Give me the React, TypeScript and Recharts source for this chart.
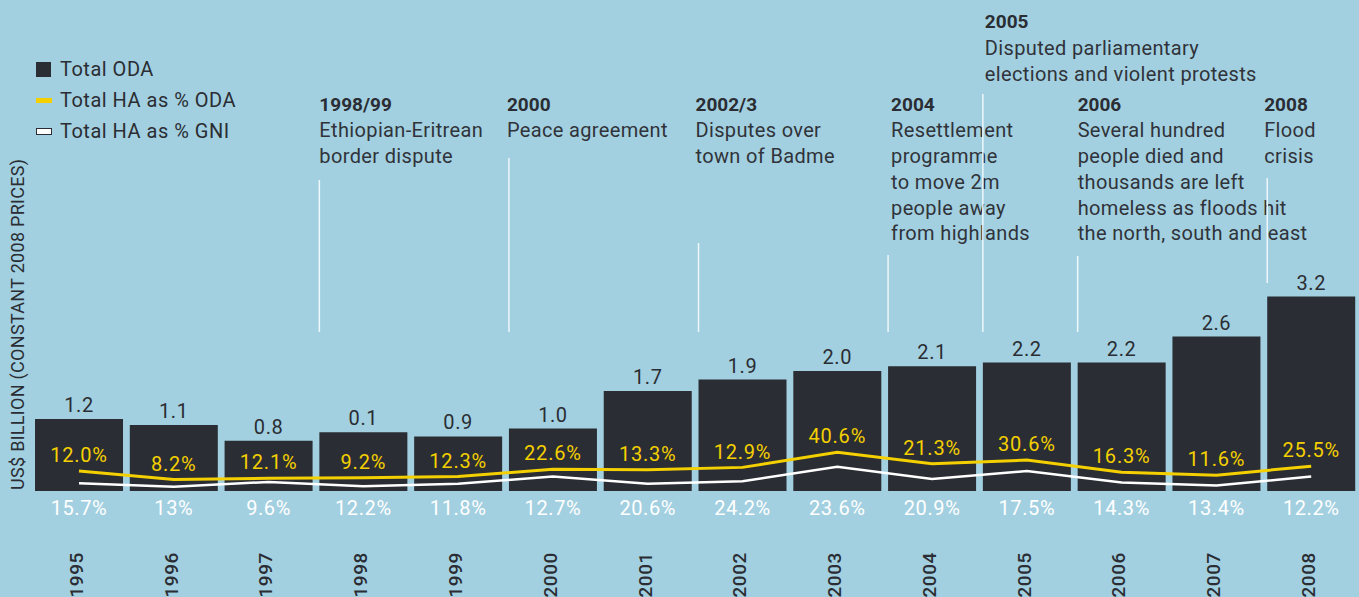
import React from "react";
import {
  ComposedChart,
  Bar,
  Line,
  XAxis,
  YAxis,
  LabelList,
  Legend,
} from "recharts";

const years = ["1995", "1996", "1997", "1998", "1999", "2000", "2001", "2002", "2003", "2004", "2005", "2006", "2007", "2008"];
// bar heights as drawn (US$ billion)
const odaTotal = [1.19, 1.09, 0.83, 0.97, 0.9, 1.03, 1.65, 1.84, 1.98, 2.06, 2.12, 2.12, 2.55, 3.21];
// labels printed above the bars (as in the original, incl. 1998)
const odaLabels = ["1.2", "1.1", "0.8", "0.1", "0.9", "1.0", "1.7", "1.9", "2.0", "2.1", "2.2", "2.2", "2.6", "3.2"];
const haOdaPct = ["12.0%", "8.2%", "12.1%", "9.2%", "12.3%", "22.6%", "13.3%", "12.9%", "40.6%", "21.3%", "30.6%", "16.3%", "11.6%", "25.5%"];
const haGniPct = ["15.7%", "13%", "9.6%", "12.2%", "11.8%", "12.7%", "20.6%", "24.2%", "23.6%", "20.9%", "17.5%", "14.3%", "13.4%", "12.2%"];
// line levels as plotted, on the bar scale
const haOdaLine = [0.33, 0.19, 0.21, 0.22, 0.24, 0.36, 0.35, 0.39, 0.64, 0.45, 0.51, 0.31, 0.26, 0.41];
const haGniLine = [0.13, 0.07, 0.15, 0.08, 0.12, 0.24, 0.12, 0.16, 0.4, 0.2, 0.33, 0.14, 0.09, 0.24];

const events = [
  { idx: 3, title: "1998/99", lines: ["Ethiopian-Eritrean", "border dispute"], head: 104, from: 180, to: 332, dx: 0 },
  { idx: 5, title: "2000", lines: ["Peace agreement"], head: 104, from: 158, to: 332, dx: -2 },
  { idx: 7, title: "2002/3", lines: ["Disputes over", "town of Badme"], head: 104, from: 243, to: 332, dx: -3 },
  { idx: 9, title: "2004", lines: ["Resettlement", "programme", "to move 2m", "people away", "from highlands"], head: 104, from: 255, to: 332, dx: 3 },
  { idx: 10, title: "2005", lines: ["Disputed parliamentary", "elections and violent protests"], head: 21, from: 94, to: 332, dx: 2 },
  { idx: 11, title: "2006", lines: ["Several hundred", "people died and", "thousands are left", "homeless as floods hit", "the north, south and east"], head: 104, from: 256, to: 332, dx: 0 },
  { idx: 13, title: "2008", lines: ["Flood", "crisis"], head: 104, from: 178, to: 283, dx: -3 },
];

const W = 1359;
const H = 597;
const BG = "#a3d0e0";
const DARK = "#2a2d33";
const YELLOW = "#f5d000";
const FONT = "Roboto, 'DejaVu Sans', sans-serif";
const PLOT_LEFT = 31.6;
const PLOT_W = 1327;
const GAP = "3.6%";

const data = years.map((year, i) => ({
  year,
  oda: odaTotal[i],
  odaLabel: odaLabels[i],
  haOda: haOdaLine[i],
  haGni: haGniLine[i],
  odaPct: haOdaPct[i],
  gniPct: haGniPct[i],
}));

const barLeft = (i: number) => {
  const band = PLOT_W / years.length;
  return PLOT_LEFT + i * band + band * 0.036;
};

const YearTick = (props: any) => {
  const { x, y, index } = props;
  return (
    <g>
      <text x={x} y={y + 17} dy="0.36em" textAnchor="middle" fill="#ffffff" fontSize={20} letterSpacing={0.6} fontFamily={FONT}>
        {haGniPct[index]}
      </text>
      <text
        x={x - 3}
        y={y + 61}
        dy="0.36em"
        textAnchor="end"
        fill={DARK}
        fontSize={19}
        fontWeight={500}
        letterSpacing={0.6}
        fontFamily={FONT}
        transform={`rotate(-90, ${x - 3}, ${y + 61})`}
      >
        {years[index]}
      </text>
    </g>
  );
};

const BarValue = (props: any) => {
  const { x, y, width, value } = props;
  return (
    <text x={x + width / 2} y={y - 7} textAnchor="middle" fill={DARK} fontSize={20} letterSpacing={0.6} fontFamily={FONT}>
      {value}
    </text>
  );
};

const PctLabel = (props: any) => {
  const { x, y, value } = props;
  return (
    <text x={x} y={y - 16} dy="0.36em" textAnchor="middle" fill={YELLOW} fontSize={20} letterSpacing={0.8} fontFamily={FONT}>
      {value}
    </text>
  );
};

const LegendBox = () => (
  <div style={{ fontFamily: FONT, fontSize: 20, letterSpacing: 0.5, color: DARK, lineHeight: "31px" }}>
    <div style={{ display: "flex", alignItems: "center" }}>
      <span style={{ width: 15, height: 15, background: DARK, marginRight: 9 }} />
      Total ODA
    </div>
    <div style={{ display: "flex", alignItems: "center" }}>
      <span style={{ width: 16, height: 5, background: YELLOW, marginRight: 8 }} />
      Total HA as % ODA
    </div>
    <div style={{ display: "flex", alignItems: "center" }}>
      <span style={{ width: 14, height: 5, background: "#fff", border: `1px solid ${DARK}`, marginRight: 8 }} />
      Total HA as % GNI
    </div>
  </div>
);

export default function App() {
  return (
    <div style={{ position: "absolute", left: 0, top: 0, width: W, height: H, background: BG, overflow: "hidden" }}>
      <ComposedChart
        width={W}
        height={H}
        data={data}
        margin={{ top: 279, right: W - PLOT_LEFT - PLOT_W, bottom: 0, left: PLOT_LEFT }}
        barCategoryGap={GAP}
      >
        <XAxis
          dataKey="year"
          axisLine={false}
          tickLine={false}
          tickSize={0}
          tickMargin={0}
          interval={0}
          height={106}
          tick={YearTick}
        />
        <YAxis hide domain={[0, 3.5]} />
        <Legend
          layout="vertical"
          align="center"
          verticalAlign="middle"
          wrapperStyle={{ left: 36, top: 54, width: 280 }}
          content={LegendBox}
        />
        <Bar dataKey="oda" fill={DARK} isAnimationActive={false}>
          <LabelList dataKey="odaLabel" content={BarValue} />
        </Bar>
        <Line type="linear" dataKey="haGni" stroke="#ffffff" strokeWidth={2.5} dot={false} isAnimationActive={false} />
        <Line type="linear" dataKey="haOda" stroke={YELLOW} strokeWidth={3} dot={false} isAnimationActive={false}>
          <LabelList dataKey="odaPct" content={PctLabel} />
        </Line>
      </ComposedChart>
      <svg width={W} height={H} style={{ position: "absolute", left: 0, top: 0, pointerEvents: "none" }}>
        <text
          x={18}
          y={490}
          dy="0.36em"
          fill={DARK}
          fontSize={18}
          letterSpacing={0.3}
          fontFamily={FONT}
          transform="rotate(-90, 18, 490)"
        >
          US$ BILLION (CONSTANT 2008 PRICES)
        </text>
        {events.map((ev) => {
          const x = barLeft(ev.idx);
          const tx = x + ev.dx;
          return (
            <g key={ev.title}>
              <line x1={x} x2={x} y1={ev.from} y2={ev.to} stroke="#eef7fa" strokeWidth={1.5} />
              <text x={tx} y={ev.head} dy="0.36em" fill={DARK} fontSize={19} fontWeight={700} fontFamily={FONT}>
                {ev.title}
              </text>
              {ev.lines.map((ln, j) => (
                <text
                  key={j}
                  x={tx}
                  y={ev.head + (ev.idx === 10 ? 27 : 26) + j * 25.8}
                  dy="0.36em"
                  fill="#30333a"
                  fontSize={20}
                  letterSpacing={0.35}
                  fontFamily={FONT}
                >
                  {ln}
                </text>
              ))}
            </g>
          );
        })}
      </svg>
    </div>
  );
}
